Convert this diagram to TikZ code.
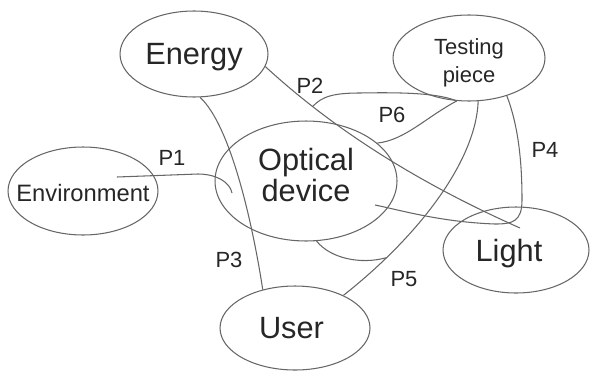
\documentclass[tikz,border=0pt]{standalone}
\usepackage{fontspec}
\setmainfont{Liberation Sans}
\usetikzlibrary{shapes.geometric}
\begin{document}
\begin{tikzpicture}[x=0.02cm,y=-0.02cm]
    \tikzset{part/.style={ellipse,draw=black!60,line width=0.6pt,inner sep=0pt},
        partname/.style={text=black!85,align=center,font=\fontsize{17.5}{17.5}\selectfont},
        link/.style={draw=black!60,line width=0.6pt},
        tag/.style={text=black!85,font=\fontsize{12.5}{14}\selectfont}};
    \useasboundingbox (0,0) rectangle (590,372);
    % the six parts
    \node[part,minimum width=2.96cm,minimum height=1.72cm,label={[partname,yshift=-2pt]center:Energy}] (energy) at (194,54) {};
    \node[part,minimum width=3.04cm,minimum height=1.72cm,label={[partname,yshift=-2.5pt,font=\fontsize{12.5}{16}\selectfont]center:Testing\\piece}] (testing) at (469,58) {};
    \node[part,minimum width=3.64cm,minimum height=2.4cm,label={[partname,yshift=3.5pt]center:Optical\\device}] (optical) at (306,181) {};
    \node[part,minimum width=3cm,minimum height=1.76cm,label={[partname,yshift=-1pt,font=\fontsize{13.5}{15}\selectfont]center:Environment}] (env) at (83,191) {};
    \node[part,minimum width=2.92cm,minimum height=1.72cm,label={[partname,xshift=-4pt,yshift=-2pt]center:Light}] (light) at (516,250) {};
    \node[part,minimum width=3cm,minimum height=1.68cm,label={[partname,xshift=-2pt]center:User}] (user) at (295,328) {};
    % free ends inside the parts
    \coordinate (env in) at (117,177);
    \coordinate (opt left) at (232,193);
    \coordinate (opt right) at (375,205);
    \coordinate (light in) at (520,228);
    % links
    \draw[link] (env in) -- (198,174) .. controls (216,174) and (230,182) .. (opt left);
    \draw[link] (energy.-10) .. controls (342,137) and (430,188) .. (light in) coordinate[pos=0.2] (p2fork);
    \draw[link] (p2fork) .. controls (322,96) and (335,93) .. (360,93) .. controls (410,92) and (440,94) .. (testing.-106);
    \draw[link] (energy.-82) .. controls (230,125) and (252,220) .. (user.130);
    \draw[link] (testing.-45) .. controls (518,125) and (522,160) .. (522,200) .. controls (522,222) and (512,224) .. (495,224) .. controls (440,222) and (400,210) .. (opt right);
    \draw[link] (testing.-78) .. controls (476,160) and (420,235) .. (user.34) coordinate[pos=0.8] (p5fork);
    \draw[link] (optical.-80) .. controls (330,258) and (360,265) .. (p5fork);
    \draw[link] (testing.-106) .. controls (425,118) and (405,140) .. (optical.28);
    % path labels
    \node[tag] (p1) at (172,158) {P1};
    \node[tag] (p2) at (310,86) {P2};
    \node[tag] (p3) at (229,260) {P3};
    \node[tag] (p4) at (545,150) {P4};
    \node[tag] (p5) at (404,279) {P5};
    \node[tag] (p6) at (392,115) {P6};
\end{tikzpicture}
\end{document}
